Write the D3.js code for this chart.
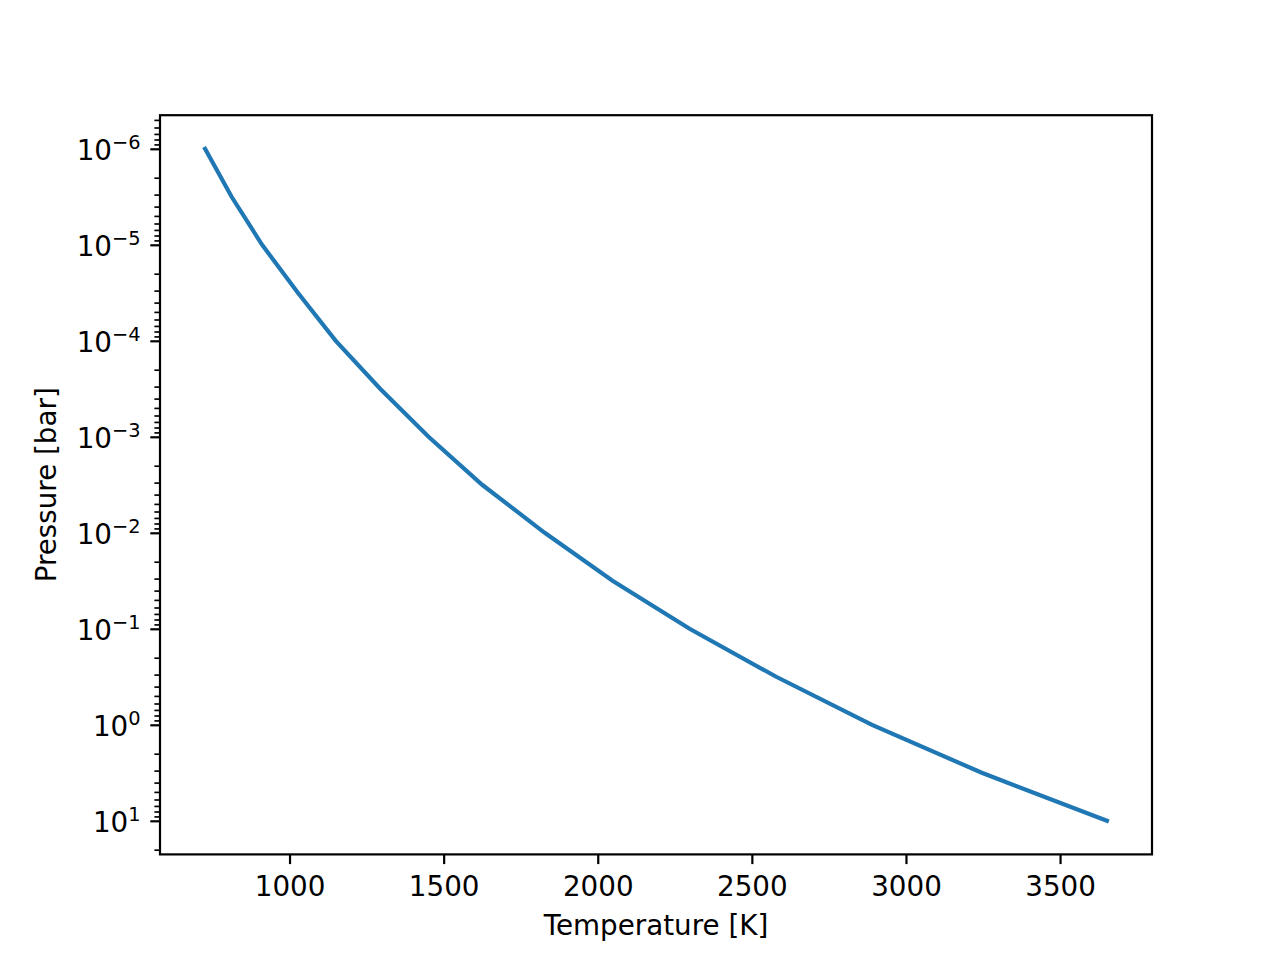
<!DOCTYPE html>
<html>
<head>
<meta charset="utf-8">
<script src="https://cdn.jsdelivr.net/npm/d3@7"></script>
<style>
  body { margin: 0; background: #fff; }
  svg text { font-family: "DejaVu Sans", sans-serif; fill: #000; }
</style>
</head>
<body>
<div id="chart"></div>
<script>
// temperature profile, one point per half decade of pressure
const temperature = [726, 812, 911, 1027, 1150, 1294, 1451, 1625, 1828, 2048, 2298, 2579, 2890, 3246, 3652];
const pressure = [1e-6, 3.16e-6, 1e-5, 3.16e-5, 1e-4, 3.16e-4, 1e-3, 3.16e-3, 1e-2, 3.16e-2, 1e-1, 3.16e-1, 1, 3.16, 10];
const xTicks = [1000, 1500, 2000, 2500, 3000, 3500];
const yExponents = [-6, -5, -4, -3, -2, -1, 0, 1];

const width = 1280;
const height = 960;
const margin = { top: 115.2, right: 128, bottom: 105.6, left: 160 };
const fontSize = 27.78;

const svg = d3.select("#chart")
  .append("svg")
  .attr("width", width)
  .attr("height", height);

// matplotlib style 5% margins
const tExt = d3.extent(temperature);
const tPad = (tExt[1] - tExt[0]) * 0.05;
const lp = d3.extent(pressure).map(Math.log10);
const lPad = (lp[1] - lp[0]) * 0.05;

const x = d3.scaleLinear()
  .domain([tExt[0] - tPad, tExt[1] + tPad])
  .range([margin.left, width - margin.right]);

const y = d3.scaleLog()
  .domain([Math.pow(10, lp[0] - lPad), Math.pow(10, lp[1] + lPad)])
  .range([margin.top, height - margin.bottom]);

const data = temperature.map((t, i) => ({ t: t, p: pressure[i] }));

// line
svg.append("path")
  .datum(data)
  .attr("fill", "none")
  .attr("stroke", "#1f77b4")
  .attr("stroke-width", 4.17)
  .attr("stroke-linecap", "square")
  .attr("d", d3.line().x(d => x(d.t)).y(d => y(d.p)));

// x axis
const xAxis = svg.append("g")
  .attr("transform", `translate(0, ${height - margin.bottom})`)
  .call(d3.axisBottom(x).tickValues(xTicks).tickSize(9.7).tickPadding(9.7).tickFormat(d3.format("d")));
xAxis.select(".domain").remove();
xAxis.selectAll(".tick line").attr("stroke-width", 2.2);
xAxis.selectAll(".tick text")
  .attr("font-size", fontSize)
  .attr("font-family", "DejaVu Sans")
  .attr("y", 41.6)
  .attr("dy", 0);

// y minor ticks
const yDom = y.domain();
const minors = [];
for (let e = -8; e <= 2; e++) {
  for (let m = 2; m <= 9; m++) {
    const v = m * Math.pow(10, e);
    if (v >= yDom[0] && v <= yDom[1]) minors.push(v);
  }
}
const yMinor = svg.append("g")
  .attr("transform", `translate(${margin.left}, 0)`)
  .call(d3.axisLeft(y).tickValues(minors).tickSize(5.6).tickFormat(""));
yMinor.select(".domain").remove();
yMinor.selectAll(".tick line").attr("stroke-width", 1.67);

// y major ticks
const yMajor = svg.append("g")
  .attr("transform", `translate(${margin.left}, 0)`)
  .call(d3.axisLeft(y).tickValues(yExponents.map(e => Math.pow(10, e))).tickSize(9.7).tickFormat(""));
yMajor.select(".domain").remove();
yMajor.selectAll(".tick line").attr("stroke-width", 2.2);
yMajor.selectAll(".tick text").remove();
yMajor.selectAll(".tick")
  .append("text")
  .attr("x", -19.4)
  .attr("y", 11)
  .attr("text-anchor", "end")
  .attr("font-size", fontSize)
  .each(function(d) {
    const e = Math.round(Math.log10(d));
    const t = d3.select(this);
    t.append("tspan").text("10");
    t.append("tspan")
      .attr("dy", -11)
      .attr("font-size", 19.4)
      .text(e < 0 ? "\u2212" + (-e) : String(e));
  });

// frame
svg.append("rect")
  .attr("x", margin.left)
  .attr("y", margin.top)
  .attr("width", width - margin.left - margin.right)
  .attr("height", height - margin.top - margin.bottom)
  .attr("fill", "none")
  .attr("stroke", "#000")
  .attr("stroke-width", 2.2);

// axis labels
svg.append("text")
  .attr("x", (margin.left + width - margin.right) / 2)
  .attr("y", 935)
  .attr("text-anchor", "middle")
  .attr("font-size", fontSize)
  .text("Temperature [K]");

svg.append("text")
  .attr("transform", `translate(56, ${(margin.top + height - margin.bottom) / 2}) rotate(-90)`)
  .attr("text-anchor", "middle")
  .attr("font-size", fontSize)
  .text("Pressure [bar]");
</script>
</body>
</html>
